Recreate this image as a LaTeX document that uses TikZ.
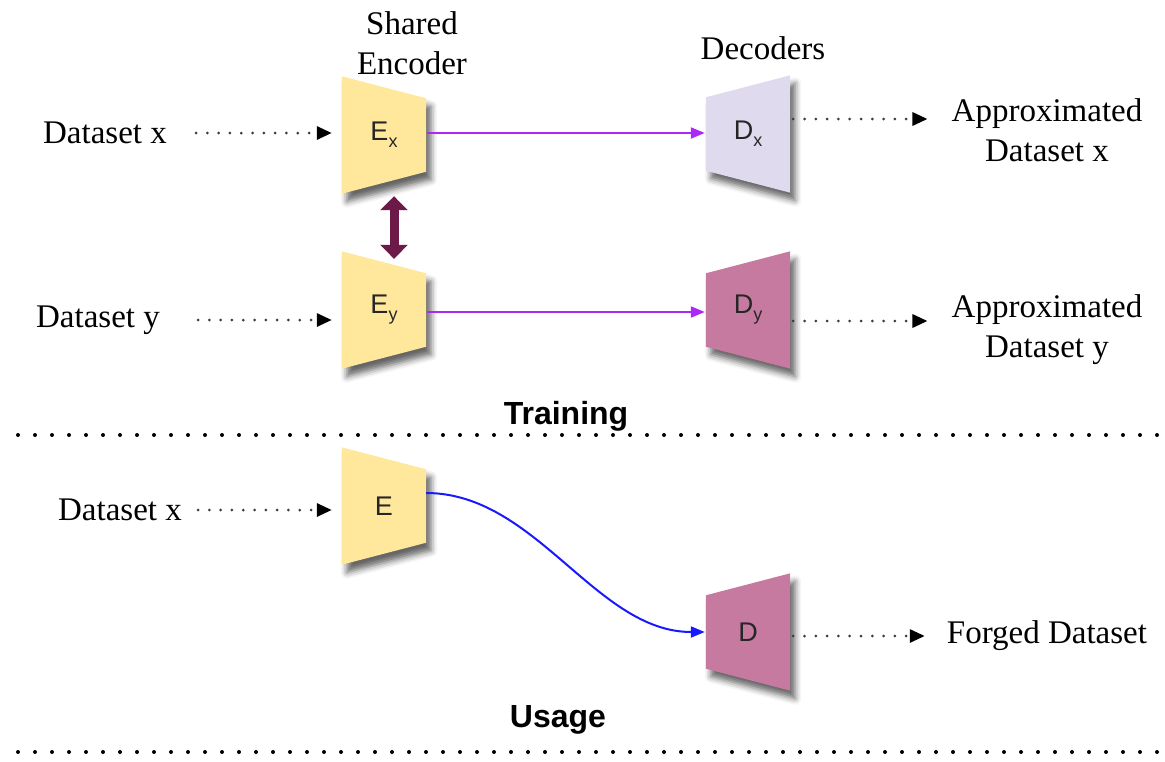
\documentclass[tikz,border=0pt]{standalone}
\usepackage{fontspec}
\setmainfont{Liberation Serif}
\newfontfamily\labsans{Liberation Sans}
\usetikzlibrary{arrows.meta,shadows.blur,backgrounds}

\definecolor{encyellow}{RGB}{255,231,155}
\definecolor{declav}{RGB}{224,218,238}
\definecolor{decmauve}{RGB}{198,122,160}
\definecolor{linkviolet}{RGB}{172,40,245}
\definecolor{linkblue}{RGB}{25,25,255}
\definecolor{tiemaroon}{RGB}{110,26,72}
\definecolor{dotgray}{RGB}{60,60,60}

\tikzset{
  unit/.style={minimum width=84pt, minimum height=117pt, inner sep=0pt,
    font=\labsans\fontsize{27}{29}\selectfont, text=black!85},
  caption/.style={inner sep=0pt, font=\fontsize{33}{40}\selectfont, align=center},
  phase/.style={inner sep=0pt, font=\labsans\bfseries\fontsize{32}{36}\selectfont},
  feed/.style={draw=dotgray, line width=3pt, line cap=round,
    dash pattern=on 0pt off 11.3pt, -{Triangle[length=15pt,width=13pt,black]}},
  link/.style={draw=linkviolet, line width=2pt, -{Triangle[length=14pt,width=11pt]}},
  swoop/.style={draw=linkblue, line width=2pt, -{Triangle[length=14pt,width=11pt]}},
  tie/.style={draw=tiemaroon, line width=9pt,
    {Triangle[length=14pt,width=27pt]}-{Triangle[length=14pt,width=27pt]}},
  shade/.style={blur shadow={shadow xshift=5pt, shadow yshift=-8pt,
    shadow blur radius=6pt, shadow opacity=60}},
  divider/.style={line width=4pt, line cap=round, dash pattern=on 0pt off 17pt},
}

% encoder: tall on the left, narrowing to the right
\newcommand\encshape[2]{\fill[#2,shade] (#1.north west) -- ([yshift=-22pt]#1.north east)
  -- ([yshift=22pt]#1.south east) -- (#1.south west) -- cycle;}
% decoder: narrow on the left, widening to the right
\newcommand\decshape[2]{\fill[#2,shade] ([yshift=-22pt]#1.north west) -- (#1.north east)
  -- (#1.south east) -- ([yshift=22pt]#1.south west) -- cycle;}
\newcommand\sub[1]{\raisebox{-7pt}{\fontsize{18}{18}\selectfont #1}}

\begin{document}
\begin{tikzpicture}[x=1pt,y=-1pt]
\useasboundingbox (0,0) rectangle (1165,761);

% headings
\node[caption] (shared) at (412,43) {Shared\\Encoder};
\node[caption] (decs) at (763,48) {Decoders};

% training: encoders and decoders
\node[unit] (Ex) at (384,135) {E\sub{x}};
\node[unit] (Ey) at (384,310) {E\sub{y}};
\node[unit] (Dx) at (748,134) {D\sub{x}};
\node[unit] (Dy) at (748,310) {D\sub{y}};

% usage
\node[unit] (E) at (384,506) {E};
\node[unit] (D) at (748,632) {D};

\begin{scope}[on background layer]
  \encshape{Ex}{encyellow}
  \encshape{Ey}{encyellow}
  \encshape{E}{encyellow}
  \decshape{Dx}{declav}
  \decshape{Dy}{decmauve}
  \decshape{D}{decmauve}
\end{scope}

% data labels
\node[caption] (dsx) at (105,133) {Dataset x};
\node[caption] (dsy) at (98,320) {Dataset y};
\node[caption] (apx) at (1047,130) {Approximated\\Dataset x};
\node[caption] (apy) at (1047,330) {Approximated\\Dataset y};
\node[caption] (dsu) at (120,510) {Dataset x};
\node[caption] (forged) at (1047,636) {Forged Dataset};

% inputs
\draw[feed, shorten <=29pt, shorten >=10pt] (dsx.east) -- (dsx.east -| Ex.west);
\draw[feed, shorten <=38pt, shorten >=10pt] (dsy.east) -- (dsy.east -| Ey.west);
\draw[feed, shorten <=16pt, shorten >=10pt] (dsu.east) -- (dsu.east -| E.west);

% outputs
\draw[feed, shorten <=3pt, shorten >=24pt] ([yshift=15pt]Dx.east) -- ([yshift=15pt]Dx.east -| apx.west);
\draw[feed, shorten <=3pt, shorten >=24pt] ([yshift=-11pt]Dy.east) -- ([yshift=-11pt]Dy.east -| apy.west);
\draw[feed, shorten <=3pt, shorten >=22pt] ([yshift=-4pt]D.east) -- ([yshift=-4pt]D.east -| forged.west);

% latent links
\draw[link, shorten <=1pt, shorten >=1pt] ([yshift=2pt]Ex.east) -- ([yshift=2pt]Ex.east -| Dx.west);
\draw[link, shorten <=1pt, shorten >=1pt] ([yshift=-2pt]Ey.east) -- ([yshift=-2pt]Ey.east -| Dy.west);
\draw[swoop, shorten >=1pt] ([yshift=13pt]E.east) .. controls +(110,0) and +(-110,0) .. (D.west);

% shared weights
\draw[tie, shorten <=2.5pt, shorten >=-7.5pt] ([xshift=10pt]Ex.south) -- ([xshift=10pt]Ey.north);

% phase separators
\node[phase] (train) at (566,416) {Training};
\node[phase] (usage) at (558,720) {Usage};
\coordinate (ruleAl) at (18,435);
\coordinate (ruleAr) at (1165,435);
\coordinate (ruleBl) at (18,752);
\coordinate (ruleBr) at (1165,752);
\draw[divider] (ruleAl) -- (ruleAr);
\draw[divider] (ruleBl) -- (ruleBr);
\end{tikzpicture}
\end{document}
